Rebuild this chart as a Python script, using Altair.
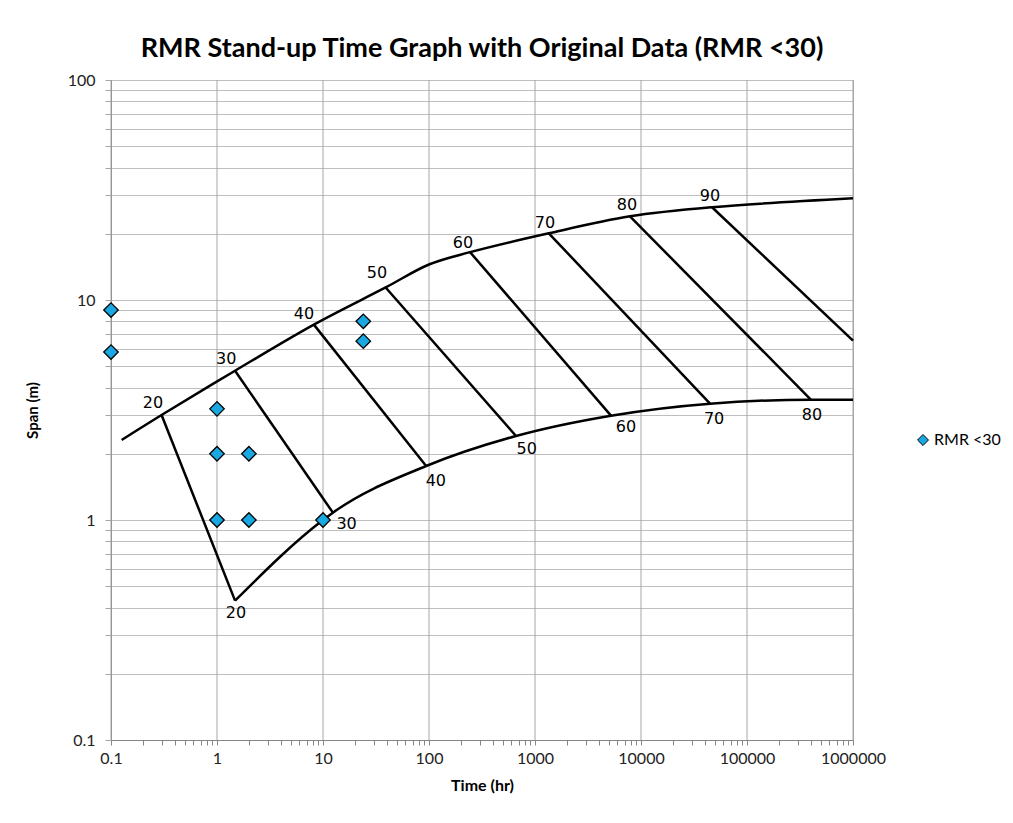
import altair as alt
import pandas as pd

# ---------------- data ----------------
decades_x = [0.1, 1, 10, 100, 1000, 10000, 100000, 1000000]
decades_y = [0.1, 1, 10, 100]
minor_mult = [1, 2, 3, 4, 5, 6, 7, 8, 9]

# RMR < 30 observations
pt_time = [0.1, 0.1, 1, 1, 2, 1, 2, 10, 24, 24]
pt_span = [9, 5.8, 3.2, 2, 2, 1, 1, 1, 8, 6.5]
series_name = "RMR <30"

# RMR iso-lines: end on the upper envelope and on the lower envelope
rmr = [20, 30, 40, 50, 60, 70, 80, 90]
top_time = [0.30, 1.48, 8.2, 39, 244, 1350, 7870, 46800]
top_span = [3.0, 4.77, 7.73, 11.4, 16.5, 20.1, 24.0, 26.4]
bot_time = [1.48, 12.4, 94, 662, 5210, 44800, 402000, 1000000]
bot_span = [0.43, 1.08, 1.76, 2.41, 2.98, 3.38, 3.52, 6.54]

# envelopes
upper_time = [0.126, 0.30, 1.48, 8.2, 39, 100, 244, 1350, 7870, 46800, 1000000]
upper_span = [2.31, 3.0, 4.77, 7.73, 11.4, 14.5, 16.5, 20.1, 24.0, 26.4, 29.0]
lower_time = [1.48, 10, 12.4, 94, 662, 5210, 44800, 402000, 1000000]
lower_span = [0.43, 1.0, 1.08, 1.76, 2.41, 2.98, 3.38, 3.52, 3.52]

# label anchors (data coordinates)
top_lab = ["20", "30", "40", "50", "60", "70", "80", "90"]
top_lab_time = [0.249, 1.22, 6.62, 32.3, 209, 1242, 7380, 44800]
top_lab_span = [3.41, 5.41, 8.68, 13.2, 18.1, 22.5, 26.9, 29.6]
bot_lab = ["20", "30", "40", "50", "60", "70", "80"]
bot_lab_time = [1.51, 16.7, 116, 835, 7210, 48900, 410000]
bot_lab_span = [0.377, 0.956, 1.5, 2.1, 2.65, 2.88, 3.01]

# ---------------- tables ----------------
x_ticks = sorted({round(m * d, 10) for d in decades_x[:-1] for m in minor_mult} | {decades_x[-1]})
y_ticks = sorted({round(m * d, 10) for d in decades_y[:-1] for m in minor_mult} | {decades_y[-1]})

pts = pd.DataFrame({"t": pt_time, "s": pt_span, "series": series_name})
cross = pd.DataFrame(
    [{"r": r, "o": 0, "t": a, "s": b} for r, a, b in zip(rmr, top_time, top_span)]
    + [{"r": r, "o": 1, "t": a, "s": b} for r, a, b in zip(rmr, bot_time, bot_span)]
)
upper = pd.DataFrame({"t": upper_time, "s": upper_span})
lower = pd.DataFrame({"t": lower_time, "s": lower_span})
labs = pd.DataFrame(
    {"t": top_lab_time + bot_lab_time, "s": top_lab_span + bot_lab_span, "lab": top_lab + bot_lab}
)
grid_v = pd.DataFrame({"t": decades_x})

# ---------------- encodings ----------------
xscale = alt.Scale(type="log", domain=[0.1, 1000000], nice=False)
yscale = alt.Scale(type="log", domain=[0.1, 100], nice=False)

xaxis = alt.Axis(
    values=x_ticks,
    grid=False,
    labelExpr="indexof(%s, datum.value) >= 0 ? '' + datum.value : ''" % str(decades_x),
    tickSize=5,
    tickColor="#868686",
    domainColor="#868686",
    labelFont="Lato",
    labelFontSize=16,
    labelColor="#222222",
    labelPadding=5,
    labelFlush=False,
    labelOverlap=False,
    title="Time (hr)",
    titleFont="Lato",
    titleFontSize=16,
    titleFontWeight="bold",
    titleColor="#000000",
    titlePadding=11,
)
yaxis = alt.Axis(
    values=y_ticks,
    grid=True,
    gridColor="#BDBDBD",
    gridWidth=1,
    labelExpr="indexof(%s, datum.value) >= 0 ? '' + datum.value : ''" % str(decades_y),
    tickSize=6,
    tickColor="#A6A6A6",
    domainColor="#868686",
    labelFont="Lato",
    labelFontSize=16,
    labelColor="#222222",
    labelPadding=10,
    labelFlush=False,
    labelOverlap=False,
    title="Span (m)",
    titleFont="Lato",
    titleFontSize=15,
    titleFontWeight="bold",
    titleColor="#000000",
    titlePadding=27,
)

X = alt.X("t:Q", scale=xscale, axis=xaxis)
Y = alt.Y("s:Q", scale=yscale, axis=yaxis)

vgrid = alt.Chart(grid_v).mark_rule(color="#A6A6A6", strokeWidth=1).encode(x=X)

up_line = alt.Chart(upper).mark_line(color="black", strokeWidth=2.5, interpolate="catmull-rom").encode(x=X, y=Y)
lo_line = alt.Chart(lower).mark_line(color="black", strokeWidth=2.5, interpolate="monotone").encode(x=X, y=Y)
cross_lines = alt.Chart(cross).mark_line(color="black", strokeWidth=2.5).encode(
    x=X, y=Y, detail="r:N", order="o:Q"
)
texts = alt.Chart(labs).mark_text(font="DejaVu Sans", fontSize=16, color="black").encode(
    x=X, y=Y, text="lab:N"
)
points = alt.Chart(pts).mark_point(
    shape="diamond", filled=True, size=210, stroke="black", strokeWidth=1.3, opacity=1
).encode(
    x=X,
    y=Y,
    fill=alt.Fill(
        "series:N",
        scale=alt.Scale(range=["#1AA8E2"]),
        legend=alt.Legend(
            title=None,
            orient="none",
            legendX=804,
            legendY=352,
            symbolType="diamond",
            symbolSize=120,
            symbolStrokeColor="black",
            symbolStrokeWidth=1,
            labelFont="Lato",
            labelFontSize=16,
            labelColor="#000000",
            labelOffset=3,
        ),
    ),
)

chart = (
    alt.layer(vgrid, up_line, lo_line, cross_lines, texts, points)
    .properties(
        width=742,
        height=660,
        autosize=alt.AutoSizeParams(type="none"),
        padding={"left": 111, "top": 80, "right": 160, "bottom": 83},
        title=alt.TitleParams(
            "RMR Stand-up Time Graph with Original Data (RMR <30)",
            font="Lato",
            fontSize=27,
            fontWeight="bold",
            color="#000000",
            anchor="middle",
            offset=9,
        ),
        background="white",
    )
    .configure_view(stroke="#A6A6A6", strokeWidth=1)
)

chart.save("out.html", embed_options={"renderer": "svg", "actions": False})
